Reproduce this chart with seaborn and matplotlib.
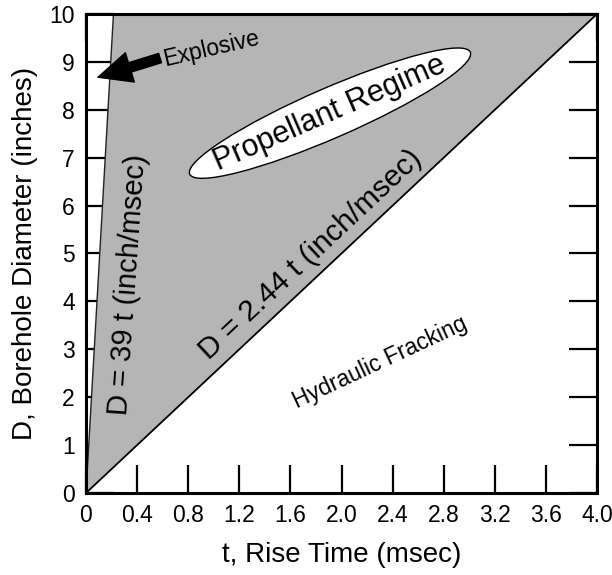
import matplotlib
matplotlib.use("Agg")
import matplotlib.pyplot as plt
import matplotlib.transforms as mtransforms
from matplotlib.patches import Ellipse
import pandas as pd
import seaborn as sns

# Configure seaborn, then pick a Helvetica-like font and plain black text
sns.set_theme(style="ticks")
plt.rcParams['font.family'] = ['Liberation Sans', 'DejaVu Sans']
plt.rcParams['text.color'] = 'black'
plt.rcParams['axes.labelcolor'] = 'black'

# Boundary lines (t in msec, D in inches)
explosive_t = [0.0, 0.215]
explosive_d = [0.0, 10.0]
fracking_t = [0.0, 4.0]
fracking_d = [0.0, 10.0]

# Corners of the shaded propellant region
region_t = [0.0, 0.215, 4.0]
region_d = [0.0, 10.0, 10.0]

# Tick positions and labels
x_ticks = [0.0, 0.4, 0.8, 1.2, 1.6, 2.0, 2.4, 2.8, 3.2, 3.6, 4.0]
x_labels = ['0', '0.4', '0.8', '1.2', '1.6', '2.0', '2.4', '2.8', '3.2', '3.6', '4.0']
y_ticks = [0, 1, 2, 3, 4, 5, 6, 7, 8, 9, 10]
y_labels = ['0', '1', '2', '3', '4', '5', '6', '7', '8', '9', '10']

explosive_df = pd.DataFrame({'t': explosive_t, 'D': explosive_d})
fracking_df = pd.DataFrame({'t': fracking_t, 'D': fracking_d})

fig = plt.figure(figsize=(6.12, 5.75), dpi=100)
ax = fig.add_axes([86 / 612, 1 - 493 / 575, 511 / 612, 479 / 575])

# shaded region between the two lines
ax.fill(region_t, region_d, color='#b5b5b5', zorder=1, linewidth=0)

# the two boundary lines
sns.lineplot(data=explosive_df, x='t', y='D', color='#222222', linewidth=1.0, ax=ax, zorder=2)
sns.lineplot(data=fracking_df, x='t', y='D', color='black', linewidth=1.3, ax=ax, zorder=2)

ax.set_xlim(0, 4.0)
ax.set_ylim(0, 10)
ax.set_xticks(x_ticks)
ax.set_xticklabels(x_labels)
ax.set_yticks(y_ticks)
ax.set_yticklabels(y_labels)
ax.tick_params(direction='in', length=20, width=1.6, top=True, right=True,
               labelsize=16.5, pad=8, colors='black')
for side in ['left', 'right', 'top', 'bottom']:
    ax.spines[side].set_linewidth(2.2)
    ax.spines[side].set_color('black')
    ax.spines[side].set_zorder(5)

ax.set_xlabel('t, Rise Time (msec)', fontsize=20, labelpad=11)
ax.set_ylabel('D, Borehole Diameter (inches)', fontsize=20, labelpad=8)

# "Propellant Regime" ellipse, drawn in inches around a data point
ell_trans = fig.dpi_scale_trans + mtransforms.ScaledTranslation(1.91, 7.93, ax.transData)
ellipse = Ellipse((0, 0), width=3.06, height=0.5, angle=23.5, transform=ell_trans,
                  facecolor='white', edgecolor='black', linewidth=1.0, zorder=3)
ax.add_patch(ellipse)
ax.text(1.91, 7.93, 'Propellant Regime', rotation=23.5, rotation_mode='anchor',
        ha='center', va='center', fontsize=22, zorder=4)

# line labels
ax.text(0.33, 4.34, 'D = 39 t (inch/msec)', rotation=86, rotation_mode='anchor',
        ha='center', va='center', fontsize=21, zorder=4)
ax.text(1.76, 4.98, 'D = 2.44 t (inch/msec)', rotation=43, rotation_mode='anchor',
        ha='center', va='center', fontsize=21.5, zorder=4)
ax.text(2.30, 2.73, 'Hydraulic Fracking', rotation=25, rotation_mode='anchor',
        ha='center', va='center', fontsize=16.5, zorder=4)

# explosive label with fat arrow
ax.text(0.98, 9.27, 'Explosive', rotation=13, rotation_mode='anchor',
        ha='center', va='center', fontsize=16.5, zorder=4)
ax.annotate('', xy=(0.094, 8.68), xytext=(0.58, 9.08),
            arrowprops=dict(arrowstyle='simple,head_length=1.2,head_width=1.1,tail_width=0.35',
                            facecolor='black', edgecolor='black', shrinkA=0, shrinkB=0,
                            mutation_scale=20),
            zorder=4)

fig.savefig('out.png', dpi=100)
